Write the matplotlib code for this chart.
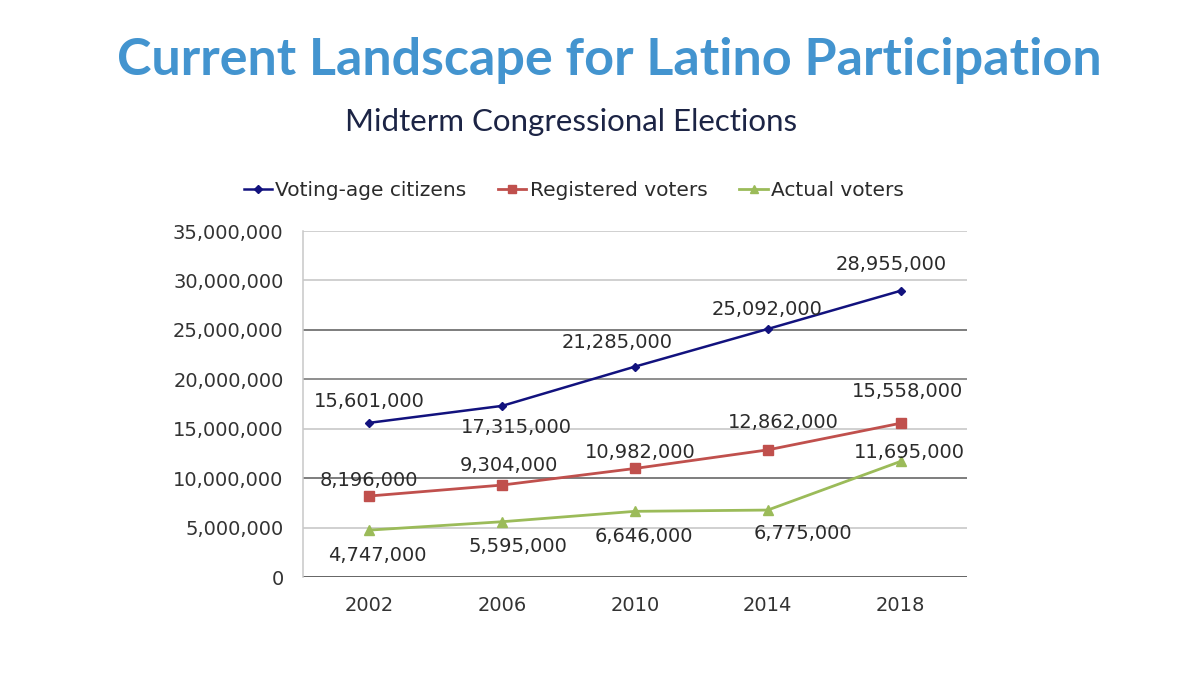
import matplotlib
matplotlib.use("Agg")
import matplotlib.pyplot as plt
from matplotlib.ticker import FuncFormatter

# data
years = ["2002", "2006", "2010", "2014", "2018"]
voting_age = [15601000, 17315000, 21285000, 25092000, 28955000]
registered = [8196000, 9304000, 10982000, 12862000, 15558000]
actual = [4747000, 5595000, 6646000, 6775000, 11695000]
series_names = ["Voting-age citizens", "Registered voters", "Actual voters"]
y_ticks = [0, 5000000, 10000000, 15000000, 20000000, 25000000, 30000000, 35000000]

# label offsets in pixels (dx, dy) relative to each point
off_voting = [(0, 21), (14, -22), (-18, 24), (-1, 19), (-9, 26)]
off_registered = [(-1, 16), (7, 20), (5, 16), (16, 27), (7, 32)]
off_actual = [(8, -25), (16, -25), (9, -25), (35, -23), (9, 9)]

grid_cols = ["#3a3a3a", "#c4c4c4", "#5a5a5a", "#c4c4c4", "#707070", "#5a5a5a", "#c4c4c4", "#c4c4c4"]

fig = plt.figure(figsize=(12, 6.73), dpi=100)
fig.patch.set_facecolor("white")
ax = fig.add_axes([0.2525, 0.1426, 0.5533, 0.5141])

x = list(range(len(years)))
for yv, c in zip(y_ticks, grid_cols):
    ax.axhline(yv, color=c, lw=1.1, zorder=1)

l1, = ax.plot(x, voting_age, color="#12127e", lw=1.8, marker="D", ms=4.5, zorder=3)
l2, = ax.plot(x, registered, color="#c0504d", lw=2.0, marker="s", ms=7, zorder=3)
l3, = ax.plot(x, actual, color="#9bbb59", lw=2.0, marker="^", ms=6.5, zorder=3)

for vals, offs in [(voting_age, off_voting), (registered, off_registered), (actual, off_actual)]:
    for xi, v, (dx, dy) in zip(x, vals, offs):
        ax.annotate(f"{v:,}", (xi, v), xytext=(dx, dy), textcoords="offset pixels",
                    ha="center", va="center", fontsize=14, color="#2b2b2b", zorder=4)

ax.set_xlim(-0.5, 4.5)
ax.set_ylim(0, 35000000)
ax.set_yticks(y_ticks)
ax.yaxis.set_major_formatter(FuncFormatter(lambda v, p: f"{int(v):,}"))
ax.set_xticks(x)
ax.set_xticklabels(years)
ax.tick_params(axis="both", length=0, labelsize=14, labelcolor="#333333")
ax.tick_params(axis="y", pad=14)
ax.tick_params(axis="x", pad=14)
for s in ["top", "right", "bottom"]:
    ax.spines[s].set_visible(False)
ax.spines["left"].set_color("#c8c8c8")
ax.spines["left"].set_linewidth(1.1)

fig.legend([l1, l2, l3], series_names, loc="center", bbox_to_anchor=(0.478, 0.717),
           ncol=3, frameon=False, fontsize=14.5, handlelength=1.4, handletextpad=0.15,
           columnspacing=1.6, markerscale=0.8, labelcolor="#2b2b2b")

fig.text(0.508, 0.8886, "Current Landscape for Latino Participation", ha="center", va="baseline",
         fontsize=37.5, fontweight="bold", color="#4394cf", family="Lato")
fig.text(0.476, 0.806, "Midterm Congressional Elections", ha="center", va="baseline",
         fontsize=22.5, color="#1c2445", family="Lato")

fig.savefig("out.png", dpi=100)
